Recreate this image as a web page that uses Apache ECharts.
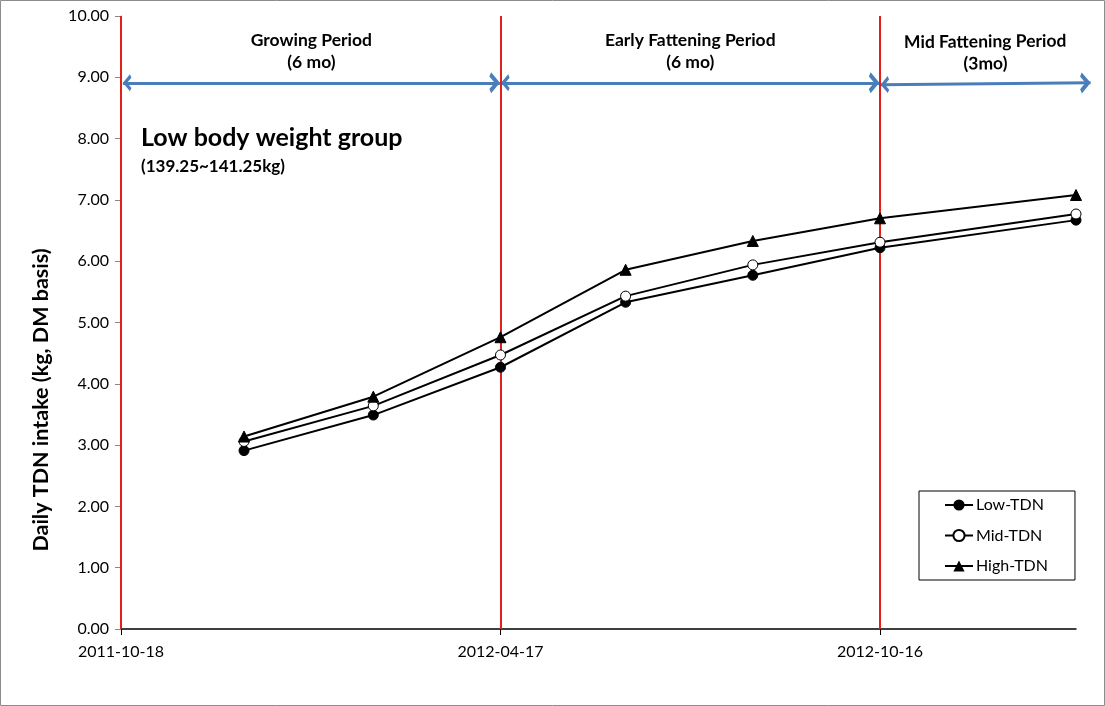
<!DOCTYPE html>
<html>
<head>
<meta charset="utf-8">
<script src="https://cdn.jsdelivr.net/npm/echarts@6/dist/echarts.min.js"></script>
<style>
html,body{margin:0;padding:0;background:#fff;}
#c{width:1105px;height:706px;}
</style>
</head>
<body>
<div id="c"></div>
<script>
// ---- data ----
var dates = ['2011-12-16','2012-02-16','2012-04-17','2012-06-16','2012-08-16','2012-10-16','2013-01-18'];
var lowTDN  = [2.91, 3.49, 4.27, 5.33, 5.77, 6.22, 6.67];
var midTDN  = [3.06, 3.64, 4.47, 5.43, 5.94, 6.31, 6.77];
var highTDN = [3.14, 3.79, 4.76, 5.86, 6.33, 6.70, 7.08];
var xTickDates = ['2011-10-18','2012-04-17','2012-10-16'];
var periodDates = ['2011-10-18','2012-04-17','2012-10-16'];
var axisEndDate = '2013-01-18';
var arrowEndDate = '2013-01-25';
var periodLabels = ['Growing Period\n(6 mo)','Early Fattening Period\n(6 mo)','Mid Fattening Period\n(3mo)'];
var arrowLevel = 8.91;

var ORIGIN = Date.UTC(2011,9,18);
function toDays(s){var p=s.split('-');return Math.round((Date.UTC(+p[0],+p[1]-1,+p[2])-ORIGIN)/86400000);}
function fmt(d){var t=new Date(ORIGIN+d*86400000);function z(n){return (n<10?'0':'')+n;}return t.getUTCFullYear()+'-'+z(t.getUTCMonth()+1)+'-'+z(t.getUTCDate());}
function pairs(vals){return dates.map(function(d,i){return [toDays(d),vals[i]];});}

var FONT = 'Lato';
var xTicks = xTickDates.map(toDays);
var pd = periodDates.map(toDays);
// chevron with its tip at the centre of the symbol box
var arrowSym = 'path://M0,10 L10,0 L20,10 L16,12 L10,6 L4,12 Z M10,-12 L10.02,-12 L10,-11.98 Z';

var arrowData = [
  {coords:[[pd[0]+0.9, arrowLevel],[pd[1]-0.3, arrowLevel]], label:{formatter:periodLabels[0]}},
  {coords:[[pd[1]+0.3, arrowLevel],[pd[2]-0.3, arrowLevel]], label:{formatter:periodLabels[1]}},
  {coords:[[pd[2]+0.3, arrowLevel-0.03],[toDays(arrowEndDate), arrowLevel]], label:{formatter:periodLabels[2]}}
];

var chart = echarts.init(document.getElementById('c'));
chart.setOption({
  animation:false,
  textStyle:{fontFamily:FONT},
  grid:{left:121,right:29,top:16,bottom:77},
  xAxis:{
    type:'value', min:0, max:toDays(axisEndDate),
    axisLine:{show:true,lineStyle:{color:'#000',width:1.5}},
    axisTick:{show:true,customValues:xTicks,length:6,lineStyle:{color:'#000'}},
    axisLabel:{customValues:xTicks,formatter:function(v){return fmt(v);},color:'#000',fontSize:16,fontFamily:FONT,margin:15},
    splitLine:{show:false}
  },
  yAxis:{
    type:'value', min:0, max:10, interval:1,
    axisLine:{show:true,lineStyle:{color:'#888'}},
    axisTick:{show:true,length:6,lineStyle:{color:'#888'}},
    axisLabel:{formatter:function(v){return v.toFixed(2);},color:'#000',fontSize:16,fontFamily:FONT,margin:12},
    splitLine:{show:false}
  },
  legend:{
    orient:'vertical', left:919, top:491,
    backgroundColor:'#fff', borderColor:'#000', borderWidth:1,
    padding:[6,27,6,25], itemWidth:28, itemHeight:14, itemGap:14.5,
    textStyle:{fontSize:16,color:'#000',fontFamily:FONT,padding:[0,0,0,-2]},
    data:['Low-TDN','Mid-TDN','High-TDN']
  },
  graphic:[
    {type:'rect',shape:{x:0.5,y:0.5,width:1104,height:705},style:{fill:'none',stroke:'#8c8c8c',lineWidth:1},silent:true},
    {type:'text',left:141,top:125,style:{text:'Low body weight group',font:'bold 25px '+FONT,fill:'#000'}},
    {type:'text',left:141,top:158,style:{text:'(139.25~141.25kg)',font:'bold 17px '+FONT,fill:'#000'}},
    {type:'text',x:41,y:400,rotation:Math.PI/2,style:{text:'Daily TDN intake (kg, DM basis)',font:'bold 21.5px '+FONT,fill:'#000',align:'center',verticalAlign:'middle'}}
  ],
  series:[
    {
      name:'guides', type:'line', data:[], z:1, silent:true,
      markLine:{
        silent:true, symbol:['none','none'], animation:false,
        lineStyle:{color:'#e0201b',width:2,type:'solid'},
        label:{show:false},
        data:pd.map(function(v){return {xAxis:v};})
      }
    },
    {
      name:'arrows', type:'lines', coordinateSystem:'cartesian2d', z:2, clip:false, silent:true,
      symbol:[arrowSym,arrowSym], symbolSize:[17,21],
      lineStyle:{color:'#4a7ebb',width:3,opacity:1,curveness:0},
      label:{show:true,position:'middle',distance:9,fontSize:17.5,fontWeight:'bold',color:'#000',fontFamily:FONT,lineHeight:22,align:'center'},
      emphasis:{disabled:true},
      data:arrowData
    },
    {name:'Low-TDN',type:'line',data:pairs(lowTDN),z:5,symbol:'circle',symbolSize:10,
     lineStyle:{color:'#000',width:2},itemStyle:{color:'#000',borderColor:'#000'}},
    {name:'Mid-TDN',type:'line',data:pairs(midTDN),z:5,symbol:'circle',symbolSize:10,
     lineStyle:{color:'#000',width:2},itemStyle:{color:'#fff',borderColor:'#000',borderWidth:1}},
    {name:'High-TDN',type:'line',data:pairs(highTDN),z:5,symbol:'triangle',symbolSize:11,
     lineStyle:{color:'#000',width:2},itemStyle:{color:'#000',borderColor:'#000'}}
  ]
});
</script>
</body>
</html>
